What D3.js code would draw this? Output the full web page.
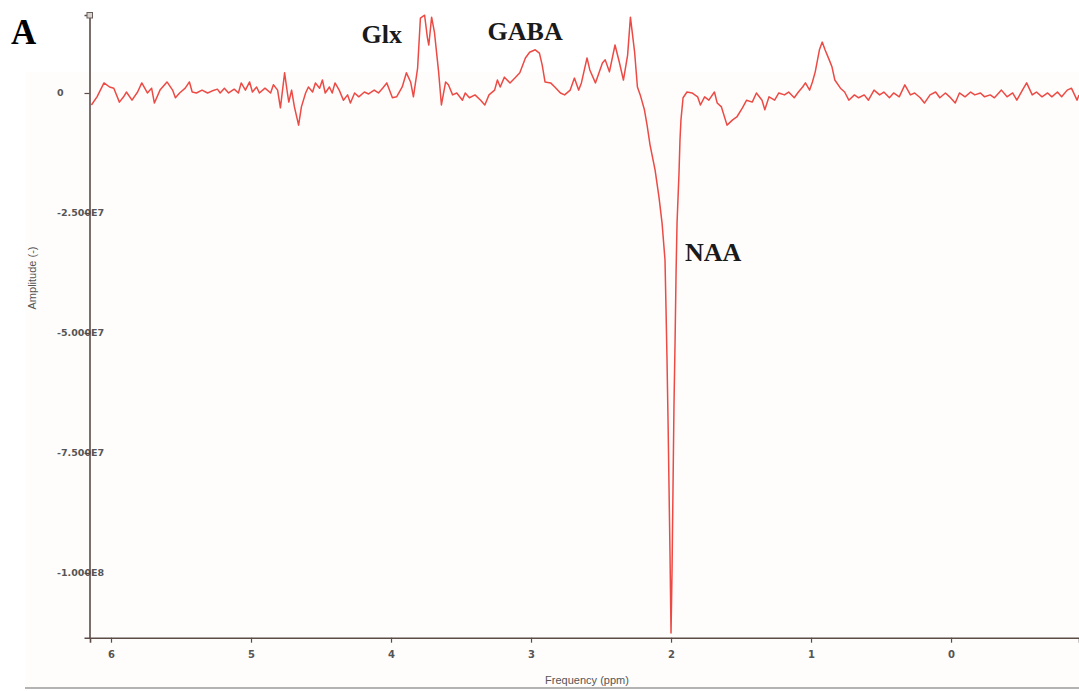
<!DOCTYPE html>
<html>
<head>
<meta charset="utf-8">
<script src="https://cdn.jsdelivr.net/npm/d3@7"></script>
<style>
  html, body { margin: 0; padding: 0; background: #ffffff; }
  svg { display: block; }
</style>
</head>
<body>
<svg id="chart" width="1079" height="691"></svg>
<script>
// Chemical shift (ppm) of each sample point
const ppm = [
  6.14, 6.10, 6.05, 6.01, 5.98, 5.94, 5.91, 5.89, 5.85, 5.81, 5.78, 5.74, 5.71, 5.69, 5.65, 5.60,
  5.56, 5.54, 5.51, 5.47, 5.44, 5.42, 5.39, 5.35, 5.31, 5.28, 5.24, 5.22, 5.19, 5.16, 5.12, 5.09,
  5.07, 5.04, 5.01, 4.99, 4.96, 4.94, 4.90, 4.86, 4.84, 4.81, 4.79, 4.76, 4.74, 4.73, 4.71, 4.69,
  4.66, 4.64, 4.61, 4.59, 4.56, 4.54, 4.51, 4.49, 4.47, 4.44, 4.42, 4.40, 4.37, 4.34, 4.31, 4.29,
  4.26, 4.23, 4.19, 4.16, 4.12, 4.09, 4.06, 4.03, 3.99, 3.96, 3.92, 3.89, 3.86, 3.84, 3.81, 3.79,
  3.76, 3.74, 3.73, 3.71, 3.69, 3.66, 3.64, 3.61, 3.59, 3.56, 3.53, 3.49, 3.47, 3.44, 3.40, 3.36,
  3.33, 3.30, 3.26, 3.24, 3.22, 3.19, 3.15, 3.11, 3.08, 3.04, 3.01, 2.97, 2.94, 2.92, 2.90, 2.86,
  2.83, 2.79, 2.76, 2.72, 2.69, 2.66, 2.64, 2.60, 2.58, 2.54, 2.49, 2.47, 2.44, 2.40, 2.37, 2.34,
  2.31, 2.29, 2.26, 2.24, 2.22, 2.19, 2.171, 2.150, 2.114, 2.086, 2.064, 2.043, 2.036, 2.029, 2.021, 2.014,
  2.007, 2.000, 1.993, 1.986, 1.979, 1.971, 1.964, 1.957, 1.943, 1.936, 1.929, 1.914, 1.886, 1.85, 1.81, 1.79,
  1.76, 1.73, 1.69, 1.67, 1.64, 1.60, 1.56, 1.53, 1.49, 1.46, 1.42, 1.39, 1.35, 1.33, 1.30, 1.26,
  1.23, 1.19, 1.16, 1.12, 1.09, 1.06, 1.04, 1.01, 0.99, 0.97, 0.94, 0.92, 0.90, 0.87, 0.85, 0.83,
  0.79, 0.76, 0.73, 0.69, 0.66, 0.62, 0.59, 0.55, 0.51, 0.48, 0.44, 0.41, 0.37, 0.33, 0.29, 0.26,
  0.22, 0.19, 0.15, 0.11, 0.08, 0.04, 0.01, -0.03, -0.06, -0.10, -0.14, -0.17, -0.21, -0.24, -0.28, -0.31,
  -0.36, -0.40, -0.44, -0.47, -0.51, -0.54, -0.58, -0.61, -0.65, -0.69, -0.72, -0.76, -0.79, -0.83, -0.86, -0.90,
  -0.914
];

// Amplitude at each point, in units of 1e6
const amplitudeE6 = [
  -2.5, -0.8, 2.1, 1.25, 1.0, -1.9, -0.8, 0.2, -1.5, 0.2, 2.1, 0, 1.0, -2.1, 0.6, 2.3,
  0.6, -1.0, 0, 1.0, 2.3, 0.2, 0, 0.6, 0, 0.4, 0.8, 0, 1.0, 0, 0.8, 0,
  2.1, 0.6, 2.3, 0.2, 1.25, 0, 1.0, 0, 1.7, 0.6, -3.1, 4.2, 0, -1.9, 0.6, -2.9,
  -6.7, -2.9, 0, 1.25, 0.2, 2.1, 1.0, 2.7, 0, 1.25, 0, 2.1, 0.6, -1.5, -0.4, -2.1,
  0, -0.8, 0.2, -0.2, 0.6, 0, 1.0, 2.1, -1.0, -0.8, 1.25, 4.2, 2.3, -0.8, 5.2, 15.6,
  16.2, 11.5, 10.0, 15.8, 12.7, 4.4, -2.5, 2.3, 1.7, -0.4, 0, -1.5, 0, -1.0, -0.4, -1.5,
  -2.5, -0.4, 0.6, 2.7, 1.25, 3.3, 2.1, 3.3, 4.2, 7.3, 8.5, 9.0, 8.3, 5.8, 2.3, 2.1,
  1.25, 0, -0.4, 0.6, 3.1, 0.6, 2.1, 7.3, 4.8, 2.1, 6.25, 6.9, 4.4, 10.0, 6.5, 2.7,
  7.9, 15.8, 8.5, 1.25, -0.4, -3.5, -6.7, -10.8, -16.0, -21.7, -27.1, -34.8, -44.6, -55.0, -68.75, -82.7,
  -96.7, -112.5, -100.0, -82.7, -65.4, -51.5, -37.5, -27.1, -16.7, -9.8, -5.6, -1.0, 0.2, 0, -0.8, -2.5,
  -0.8, -1.5, 0.2, -2.1, -2.9, -6.7, -5.6, -5.0, -3.1, -1.5, -1.9, 0, -1.5, -3.5, -0.8, -1.5,
  0, -0.4, 0.2, -1.0, 0.2, 1.25, 2.1, 0.6, 2.3, 4.4, 9.0, 10.6, 9.0, 6.9, 5.4, 2.7,
  1.0, 0.2, -1.5, -0.4, -1.0, -0.4, -1.5, 0.6, -0.4, 0.2, -1.0, 0, -0.8, 1.7, -0.4, 0,
  -1.0, -2.1, -0.4, 0.2, -1.0, 0, -0.8, -2.1, 0, -0.8, 0.2, -0.4, 0, -0.8, -0.4, -1.0,
  0.6, -0.8, 0, -1.5, 0.6, 2.1, -0.4, 0.2, -0.8, 0, -0.8, 0.2, -0.8, 0.6, 1.0, -1.5,
  -0.4
];

const xTickValues = [6, 5, 4, 3, 2, 1, 0];
const yTickValues = [0, -2.5e7, -5e7, -7.5e7, -1e8];
const yTickLabels = ["0", "-2.500E7", "-5.000E7", "-7.500E7", "-1.000E8"];

const peakLabels = ["Glx", "GABA", "NAA"];
const peakLabelPpm = [4.21, 3.31, 1.90];
const peakLabelAmp = [1.05e7, 1.1e7, -3.5e7];

const svg = d3.select("#chart");
const W = 1079, H = 691;

const x = d3.scaleLinear().domain([6.15, -0.914]).range([90, 1079]);
const y = d3.scaleLinear().domain([1.625e7, -1.135e8]).range([15, 637.7]);

// very faint plot panel background
svg.append("rect")
  .attr("x", 25).attr("y", 72).attr("width", W - 25).attr("height", 616)
  .attr("fill", "#fefdfc");

// bottom separator line
svg.append("line")
  .attr("x1", 25).attr("x2", W).attr("y1", 688).attr("y2", 688)
  .attr("stroke", "#9a9a9a").attr("stroke-width", 1.5);

const axisColor = "#5b4c46";
const tickFont = "'DejaVu Sans', Verdana, sans-serif";

// y tick labels (drawn beneath axis line, left-aligned as in the original)
svg.append("g").selectAll("text")
  .data(yTickValues)
  .join("text")
  .attr("x", 57)
  .attr("y", d => y(d) + 3.5)
  .attr("font-family", tickFont)
  .attr("font-size", 9.5)
  .attr("font-weight", "bold")
  .attr("fill", "#555")
  .text((d, i) => yTickLabels[i]);

// y axis
const yAxis = d3.axisLeft(y).tickValues(yTickValues).tickSize(5).tickFormat("");
const gy = svg.append("g").attr("transform", "translate(89.5,0)").call(yAxis);
gy.select(".domain").attr("stroke", axisColor).attr("stroke-width", 1.6);
gy.selectAll(".tick line").attr("stroke", axisColor).attr("stroke-width", 1.2);

// x axis
const xAxis = d3.axisBottom(x).tickValues(xTickValues).tickSize(5).tickPadding(8)
  .tickFormat(d3.format("d"));
const gx = svg.append("g").attr("transform", "translate(0,637.7)").call(xAxis);
gx.select(".domain").attr("stroke", axisColor).attr("stroke-width", 1.6);
gx.selectAll(".tick line").attr("stroke", axisColor).attr("stroke-width", 1.2);
gx.selectAll(".tick text")
  .attr("font-family", tickFont).attr("font-size", 10).attr("font-weight", "bold")
  .attr("fill", "#555");

// small handle square at top of y axis
svg.append("rect")
  .attr("x", 87).attr("y", 12.5).attr("width", 5.5).attr("height", 5.5)
  .attr("fill", "#d8d4d2").attr("stroke", "#6a5e5a").attr("stroke-width", 1);

// axis titles
svg.append("text")
  .attr("transform", "translate(36,278) rotate(-90)")
  .attr("text-anchor", "middle")
  .attr("font-family", "'Liberation Sans', Arial, sans-serif")
  .attr("font-size", 11)
  .attr("fill", "#555")
  .text("Amplitude (-)");

svg.append("text")
  .attr("x", 587).attr("y", 684)
  .attr("text-anchor", "middle")
  .attr("font-family", "'Liberation Sans', Arial, sans-serif")
  .attr("font-size", 11)
  .attr("fill", "#555")
  .text("Frequency (ppm)");

// spectrum line
const pts = ppm.map((p, i) => [p, amplitudeE6[i] * 1e6]);
const line = d3.line().x(d => x(d[0])).y(d => y(d[1])).curve(d3.curveLinear);
svg.append("path")
  .datum(pts)
  .attr("d", line)
  .attr("fill", "none")
  .attr("stroke", "#ec4a44")
  .attr("stroke-width", 1.5)
  .attr("stroke-linejoin", "round");

// peak labels
svg.append("g").selectAll("text")
  .data(peakLabels)
  .join("text")
  .attr("x", (d, i) => x(peakLabelPpm[i]))
  .attr("y", (d, i) => y(peakLabelAmp[i]))
  .attr("font-family", "'Liberation Serif', 'Times New Roman', serif")
  .attr("font-weight", "bold")
  .attr("font-size", 26)
  .attr("fill", "#1a1a1a")
  .text(d => d);

// panel letter
svg.append("text")
  .attr("x", 11).attr("y", 44)
  .attr("font-family", "'Liberation Serif', 'Times New Roman', serif")
  .attr("font-weight", "bold")
  .attr("font-size", 35)
  .attr("fill", "#000")
  .text("A");
</script>
</body>
</html>
